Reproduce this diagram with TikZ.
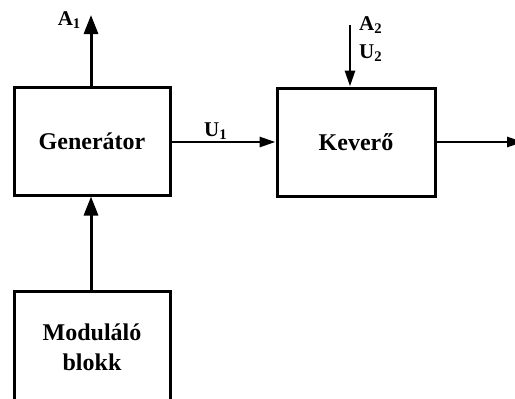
\documentclass[tikz,border=0pt]{standalone}
\usepackage{fontspec}
\setmainfont{Liberation Serif}
\usetikzlibrary{arrows.meta,positioning}

\begin{document}
\begin{tikzpicture}[
    x=1pt,y=1pt,
    block/.style={draw,line width=3pt,minimum width=156pt,minimum height=108pt,
      align=center,inner sep=0pt,font=\fontsize{24}{30}\selectfont\bfseries},
    sig/.style={font=\fontsize{21}{24}\selectfont\bfseries,inner sep=0pt},
    bigarr/.style={-{Triangle[length=19pt,width=14pt]},line width=3pt},
    thinarr/.style={-{Triangle[length=16pt,width=10pt]},line width=2.8pt}
  ]
    \useasboundingbox (0,0) rectangle (515,-399);
    % blocks
    \node[block] (gen) at (92,-141) {Generátor};
    \node[block,minimum width=158pt] (kev) at (356,-142) {Keverő};
    \node[block,minimum height=112pt] (mod) at (92,-347) {Moduláló\\blokk};
    % free ends
    \coordinate (a1) at (91,-15);
    \coordinate (a2) at (350,-25);
    \coordinate (out) at (523,-142);
    % connectors
    \draw[bigarr] (gen.north -| a1) -- (a1);
    \draw[bigarr] (mod.north -| a1) -- (gen.south -| a1);
    \draw[thinarr] (a2) -- (a2 |- kev.north);
    \draw[thinarr] (gen.east |- kev.west) -- (kev.west);
    \draw[thinarr] (kev.east) -- (out);
    % labels
    \node[sig,anchor=base east] (a1lbl) at (81,-25) {A\textsubscript{1}};
    \node[sig,anchor=base west] (a2lbl) at (359,-30) {A\textsubscript{2}};
    \node[sig,anchor=base west] (u2lbl) at (359,-58) {U\textsubscript{2}};
    \node[sig,anchor=base west] (u1lbl) at (204,-136) {U\textsubscript{1}};
\end{tikzpicture}
\end{document}
